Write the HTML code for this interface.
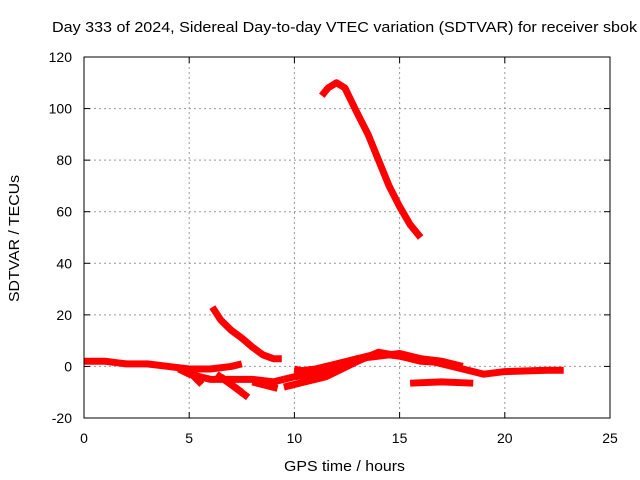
<!DOCTYPE html>
<html><head><meta charset="utf-8"><style>
html,body{margin:0;padding:0;background:#fff}
svg{display:block;font-family:"Liberation Sans",sans-serif}
</style></head><body>
<svg id="chart" width="640" height="480">
<text x="52" y="32" font-size="15" textLength="585" lengthAdjust="spacingAndGlyphs">Day 333 of 2024, Sidereal Day-to-day VTEC variation (SDTVAR) for receiver sbok</text>
<text x="284" y="471" font-size="15" textLength="121" lengthAdjust="spacingAndGlyphs">GPS time / hours</text>
<text transform="translate(19,302) rotate(-90)" font-size="15" textLength="127" lengthAdjust="spacingAndGlyphs">SDTVAR / TECUs</text>
<g id="grid"></g><g id="ticks"></g><g id="series"></g>
<rect x="84" y="57" width="526" height="361" fill="none" stroke="#000"/>
</svg>
<script>
const xTicks=[0,5,10,15,20,25];
const yTicks=[-20,0,20,40,60,80,100,120];
const arcSeries=[[11.3,105],[11.6,108],[12,110],[12.4,108],[13,98],[13.5,90],[14,80],[14.5,70],[15,62],[15.5,55],[16,50]];
const decaySeries=[[6.1,23],[6.5,18],[7,14],[7.5,11],[8,7.5],[8.5,4.5],[9,3],[9.4,3]];
const earlySeries=[[0,2],[1,2],[1.5,1.5],[2,1],[3,1],[3.5,0.5],[4,0],[5,-1],[6,-1],[7,0],[7.5,1]];
const lowerSeries=[[4.5,-1],[5,-3],[6,-5],[7,-5],[8,-5],[9,-6],[9.5,-5]];
const diagA=[[5,-2],[5.6,-7]];
const diagB=[[6.3,-3],[7.5,-10]];
const diagC=[[6.5,-4],[7.8,-12]];
const diagD=[[8,-6],[9.2,-8.5]];
const midSeries=[[9.5,-5],[10,-4],[11,-3],[12,0],[13,3],[14,5],[15,4],[16,3],[17,1],[18,-1],[19,-3],[20,-2],[22,-1.5],[22.8,-1.5]];
const bandSeries=[[10,-2],[11,-1],[12,1],[13,3],[14,4],[15,5],[16,3],[17,2],[18,0]];
const band2Series=[[10,-1],[11,-3],[12,-1],[13,2],[14,5.5],[15,4],[16,2],[17,1.5]];
const lowMidSeries=[[9.5,-8],[10.5,-6],[11.5,-4],[12.5,0],[13,2]];
const lowRightSeries=[[15.5,-6.5],[17,-6],[18.5,-6.5]];
const allSeries=[arcSeries,decaySeries,earlySeries,lowerSeries,diagA,diagB,diagC,diagD,midSeries,bandSeries,band2Series,lowMidSeries,lowRightSeries];
const X=v=>84+v*(526/25), Y=v=>418-(v+20)*(361/140);
const NS='http://www.w3.org/2000/svg';
const grid=document.getElementById('grid'),ticks=document.getElementById('ticks'),ser=document.getElementById('series');
function mk(t,a,p){const e=document.createElementNS(NS,t);for(const k in a)e.setAttribute(k,a[k]);p.appendChild(e);return e;}
xTicks.forEach(v=>{
 if(v>0&&v<25){const g=mk('line',{x1:X(v),x2:X(v),y1:57,y2:418,stroke:'#999','stroke-dasharray':'2,3'},grid);
 
 }
 const t=mk('text',{x:X(v),y:443,'font-size':14,'text-anchor':'middle'},ticks);t.textContent=v;
 
 
 mk('line',{x1:X(v),x2:X(v),y1:418,y2:412,stroke:'#000'},ticks);mk('line',{x1:X(v),x2:X(v),y1:57,y2:63,stroke:'#000'},ticks);
});
yTicks.forEach(v=>{
 if(v>-20&&v<120){const g=mk('line',{x1:84,x2:610,y1:Y(v),y2:Y(v),stroke:'#999','stroke-dasharray':'2,3'},grid);
 
 }
 const t=mk('text',{x:72,y:Y(v)+5,'font-size':14,'text-anchor':'end'},ticks);t.textContent=v;
 
 
 mk('line',{x1:84,x2:90,y1:Y(v),y2:Y(v),stroke:'#000'},ticks);mk('line',{x1:604,x2:610,y1:Y(v),y2:Y(v),stroke:'#000'},ticks);
});
allSeries.forEach(s=>{
 const p=mk('polyline',{points:s.map(d=>X(d[0])+','+Y(d[1])).join(' '),fill:'none',stroke:'#f00','stroke-width':7,'stroke-linejoin':'round'},ser);
 
 
});
</script>
</body></html>
